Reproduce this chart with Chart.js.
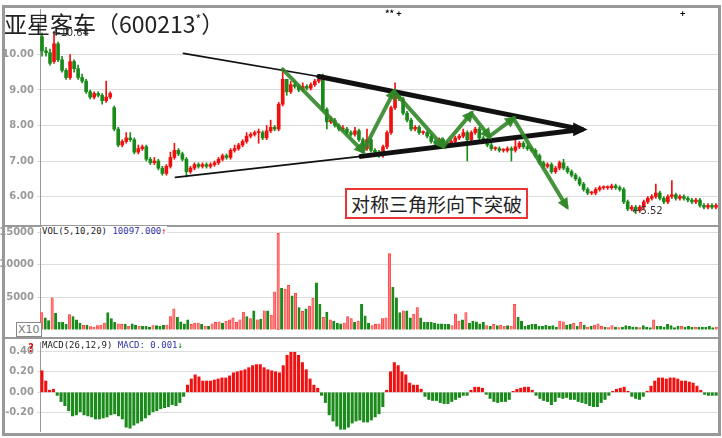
<!DOCTYPE html>
<html><head><meta charset="utf-8">
<script src="https://cdn.jsdelivr.net/npm/chart.js@4.4.0/dist/chart.umd.min.js"></script>
<style>
body{margin:0;background:#fff;font-family:"Noto Sans CJK SC",sans-serif}
#wrap{position:relative;width:722px;height:438px;overflow:hidden;background:#fff}
canvas{position:absolute}
.t{position:absolute;white-space:nowrap}
.frame{position:absolute;border:3px solid #999;left:2px;top:5px;width:713px;height:425px}
.sep{position:absolute;left:2px;width:716px;height:2px;background:#999}
</style></head><body>
<div id="wrap">
  <div class="frame"></div>
  <div class="sep" style="top:225px"></div>
  <div class="sep" style="top:337px"></div>
  <canvas id="cPrice" width="718" height="235" style="left:0;top:0"></canvas>
  <canvas id="cVol" width="718" height="121" style="left:0;top:219px"></canvas>
  <canvas id="cMacd" width="718" height="107" style="left:0;top:333px"></canvas>
  <div class="t" style="left:4px;top:6px;font-size:23px;color:#222">亚星客车（600213<sup style="font-size:12px">*</sup>）</div>
  <div class="t" style="left:52px;top:27px;font-size:10px;color:#333;font-family:'DejaVu Sans'">←10.64</div>
  <div class="t" style="left:632px;top:205px;font-size:10px;color:#333;font-family:'DejaVu Sans'">←5.52</div>
  <div class="t" style="left:385px;top:7px;font-size:9px;color:#000;font-weight:bold">** +</div>
  <div class="t" style="left:680px;top:7px;font-size:9px;color:#000;font-weight:bold">+</div>
  <div class="t" style="left:345px;top:188px;font-size:19px;color:#222;border:2px solid #e33;padding:0 4px;background:#fff">对称三角形向下突破</div>
  <div class="t" style="left:42px;top:226px;font-size:9px;font-family:'DejaVu Sans Mono';color:#222;background:#fff">VOL(5,10,20) <span style="color:#33a">10097.000</span><span style="color:#e22">↑</span></div>
  <div class="t" style="left:16px;top:322px;font-size:11px;color:#777;border:1px solid #888;padding:0 1px;background:#fff;font-family:'DejaVu Sans'">X10</div>
  <div class="t" style="left:28px;top:339px;font-size:11px;color:#d00;font-weight:bold">?</div>
  <div class="t" style="left:42px;top:340px;font-size:9px;font-family:'DejaVu Sans Mono';color:#222;background:#fff">MACD(26,12,9) <span style="color:#33a">MACD: 0.001</span><span style="color:#1a8a1a">↓</span></div>
</div>
<script>
const opens = [10.5,10.1,10.05,9.8,10.3,9.85,9.55,9.35,9.8,9.6,9.35,9.25,8.95,8.8,8.9,8.85,8.7,8.8,8.5,7.9,
  7.45,7.55,7.65,7.6,7.25,7.35,7.4,7.05,6.95,7.0,6.8,6.65,6.85,7.1,7.3,7.2,7.05,6.7,6.8,6.9,
  6.85,6.9,6.85,6.9,6.95,7.05,7.15,7.1,7.3,7.35,7.45,7.55,7.7,7.75,7.8,7.8,7.65,7.85,7.95,7.9,
  8.6,9.3,8.95,9.15,9.1,9.0,9.1,9.05,9.15,9.25,9.4,8.45,8.1,8.15,8.0,7.9,7.9,7.8,7.75,7.85,
  7.6,7.35,7.6,7.3,7.25,7.15,7.4,7.8,8.5,8.9,8.75,8.35,8.15,7.9,7.95,7.8,7.8,7.7,7.55,7.5,
  7.6,7.45,7.5,7.55,7.65,7.7,7.8,7.6,7.8,7.9,7.65,7.6,7.45,7.35,7.35,7.3,7.3,7.35,7.3,7.4,
  7.5,7.4,7.35,7.3,7.15,6.95,6.85,6.9,6.7,6.8,6.95,6.8,6.7,6.6,6.5,6.35,6.2,6.1,6.1,6.2,
  6.25,6.25,6.25,6.3,6.25,6.2,5.85,5.65,5.7,5.6,5.7,5.85,5.95,6.0,6.1,5.95,5.85,6.0,6.05,5.95,
  6.0,5.95,5.9,5.85,5.9,5.75,5.7,5.75,5.7];
const closes = [10.1,10.05,9.75,10.3,9.85,9.55,9.35,9.8,9.6,9.35,9.25,8.95,8.8,8.9,8.85,8.7,8.8,8.9,7.9,7.45,
  7.55,7.65,7.6,7.25,7.35,7.4,7.05,6.95,7.0,6.8,6.65,6.85,7.1,7.3,7.2,7.05,6.7,6.8,6.9,6.85,
  6.9,6.85,6.9,6.95,7.05,7.15,7.1,7.3,7.35,7.45,7.55,7.7,7.75,7.8,7.8,7.65,7.85,7.95,7.9,8.6,
  9.3,8.95,9.15,9.1,9.0,9.1,9.05,9.15,9.25,9.3,8.45,8.1,8.15,8.0,7.9,7.9,7.8,7.75,7.85,7.6,
  7.35,7.6,7.3,7.25,7.15,7.4,7.8,8.5,8.9,8.75,8.35,8.15,7.9,7.95,7.8,7.8,7.7,7.55,7.5,7.6,
  7.45,7.5,7.55,7.65,7.7,7.8,7.6,7.8,7.9,7.65,7.6,7.45,7.35,7.35,7.3,7.3,7.35,7.3,7.4,7.5,
  7.4,7.35,7.3,7.15,6.95,6.85,6.9,6.7,6.8,6.95,6.8,6.7,6.6,6.5,6.35,6.2,6.1,6.1,6.2,6.25,
  6.25,6.25,6.3,6.25,6.2,5.85,5.65,5.7,5.6,5.7,5.85,5.95,6.0,6.1,5.95,5.85,6.0,6.05,5.95,6.0,
  5.95,5.9,5.85,5.9,5.75,5.7,5.75,5.7,5.75];
const highs = [10.6,10.2,10.15,10.64,10.35,9.95,9.6,10.0,9.85,9.7,9.45,9.3,9.0,8.95,8.95,8.9,9.25,8.95,8.55,7.95,
  7.6,7.8,7.8,7.65,7.45,7.45,7.45,7.1,7.1,7.05,6.85,6.9,7.25,7.5,7.35,7.25,7.1,6.85,6.95,6.95,
  6.95,6.95,6.95,7.0,7.1,7.2,7.2,7.35,7.45,7.5,7.6,7.8,7.8,7.85,7.9,7.85,8.0,8.15,8.0,8.65,
  9.6,9.3,9.25,9.25,9.15,9.2,9.15,9.2,9.3,9.35,9.45,8.5,8.25,8.2,8.05,8.0,7.95,7.85,7.95,7.9,
  7.65,7.9,7.65,7.35,7.3,7.45,7.85,8.55,9.2,8.95,8.8,8.4,8.2,8.0,8.0,7.85,7.85,7.75,7.6,7.65,
  7.65,7.55,7.6,7.7,7.75,7.9,7.85,7.85,7.95,7.95,7.7,7.65,7.5,7.4,7.4,7.35,7.4,7.4,7.7,7.55,
  7.55,7.45,7.4,7.35,7.2,7.0,6.95,6.95,6.85,7.0,7.05,6.85,6.75,6.65,6.55,6.4,6.25,6.15,6.25,6.3,
  6.3,6.3,6.35,6.35,6.3,6.25,5.9,5.75,5.75,5.75,5.9,6.0,6.05,6.35,6.15,6.0,6.05,6.45,6.1,6.05,
  6.05,6.0,5.95,5.95,5.95,5.8,5.8,5.8,5.8];
const lows = [9.95,9.95,9.7,9.75,9.8,9.5,9.3,9.3,9.5,9.3,9.2,8.9,8.75,8.75,8.8,8.6,8.65,8.75,7.85,7.4,
  7.4,7.5,7.55,7.2,7.2,7.3,7.0,6.9,6.9,6.75,6.6,6.6,6.8,7.05,7.15,7.0,6.55,6.65,6.75,6.8,
  6.8,6.8,6.8,6.85,6.9,7.0,7.05,7.05,7.25,7.3,7.4,7.5,7.65,7.7,7.5,7.6,7.6,7.8,7.85,7.85,
  8.55,8.85,8.9,9.05,8.95,8.95,9.0,9.0,9.1,9.2,8.4,7.9,8.05,7.95,7.85,7.85,7.75,7.7,7.7,7.55,
  7.3,7.3,7.25,7.2,7.1,7.1,7.35,7.75,8.45,8.7,8.3,8.1,7.85,7.85,7.75,7.75,7.65,7.5,7.45,7.45,
  7.4,7.4,7.45,7.5,7.6,7.65,7.0,7.55,7.75,7.6,7.55,7.4,7.3,7.3,7.25,7.25,7.25,7.0,7.25,7.35,
  7.35,7.3,7.25,7.1,6.9,6.8,6.8,6.65,6.65,6.75,6.75,6.65,6.55,6.45,6.3,6.15,6.05,6.05,6.05,6.15,
  6.2,6.2,6.2,6.2,6.15,5.8,5.6,5.6,5.52,5.55,5.65,5.8,5.9,5.95,5.9,5.8,5.8,5.95,5.9,5.9,
  5.9,5.85,5.8,5.8,5.7,5.65,5.65,5.65,5.65];

const volumes = [2600,1800,1400,4900,2500,1100,1100,800,2300,2000,
  1500,1000,700,700,450,400,600,700,1000,2600,
  1700,1100,900,800,800,500,900,700,500,500,
  500,400,600,600,500,700,700,2000,3200,1900,
  1200,900,1500,800,1000,1000,800,500,500,900,
  1100,1200,1000,1300,1500,1800,1100,1500,2700,2000,
  1700,2900,1500,1600,2900,2900,2200,5800,14800,6400,
  6200,6800,5200,5600,3400,2800,3200,3600,4800,7200,
  3900,1900,2700,1500,1300,1000,900,1000,2000,1700,
  1100,1300,3900,2100,1000,600,800,900,1700,1800,
  11700,6500,4900,2600,2900,2900,1800,2400,3400,1800,
  1100,1100,1100,1000,900,900,800,800,600,2400,
  1300,1500,2600,1000,1300,1200,900,1100,600,500,
  800,600,700,500,600,500,3900,1900,1300,500,
  700,800,800,500,500,700,500,600,400,1300,
  1200,700,800,1000,500,1100,700,400,500,700,
  900,500,400,300,600,400,300,400,600,500,
  400,400,300,600,400,300,1500,500,500,400,
  800,600,300,500,500,400,500,400,400,400,
  400,400,500,300,400];
const volColors = 'rggrggggrg'+'ggrgrrrrrg'+'ggrrgrggrg'+'ggrgggrrrg'+'gggrrrgrgr'+'rrgrrrrrrg'+
  'rgrgrgrrrg'+'rrgrgrgrrg'+'grgrgggrrr'+'grgggrrrrr'+'rgggrggrrg'+'ggggggggrr'+'rgrgggggrg'+
  'rgrrgrrggg'+'gggggggggr'+'rggrgrgrgr'+'rrgrrgrggg'+'ggrgggrggg'+'ggggrgggrg'+'ggggr';

const macd = [0.21,0.11,0.02,0.03,-0.03,-0.09,-0.13,-0.18,-0.23,-0.22,-0.19,-0.22,-0.23,-0.24,-0.26,-0.26,-0.25,-0.24,-0.22,-0.21,
  -0.23,-0.26,-0.34,-0.35,-0.32,-0.30,-0.28,-0.25,-0.22,-0.19,-0.18,-0.16,-0.15,-0.14,-0.12,-0.13,-0.10,-0.04,0.07,0.13,
  0.17,0.15,0.11,0.11,0.11,0.12,0.13,0.14,0.14,0.16,0.19,0.20,0.21,0.22,0.24,0.26,0.27,0.27,0.24,0.22,
  0.21,0.20,0.19,0.26,0.36,0.39,0.39,0.36,0.29,0.22,0.13,0.07,0.04,-0.03,-0.10,-0.22,-0.28,-0.33,-0.36,-0.36,
  -0.34,-0.30,-0.28,-0.27,-0.29,-0.29,-0.27,-0.24,-0.21,-0.14,0.02,0.20,0.29,0.26,0.20,0.17,0.09,0.07,0.07,0.03,
  -0.04,-0.07,-0.08,-0.08,-0.10,-0.11,-0.11,-0.09,-0.07,-0.05,-0.03,-0.03,0.02,0.05,0.05,0.04,-0.02,-0.06,-0.09,-0.10,
  -0.09,-0.09,-0.07,0.01,0.03,0.04,0.05,0.05,0.02,-0.03,-0.06,-0.08,-0.09,-0.12,-0.09,-0.05,-0.06,-0.05,-0.07,-0.07,
  -0.09,-0.10,-0.11,-0.13,-0.14,-0.14,-0.10,-0.07,-0.03,0.01,0.03,0.04,0.05,0.01,-0.04,-0.06,-0.07,-0.04,0.01,0.06,
  0.11,0.14,0.14,0.13,0.14,0.14,0.13,0.11,0.11,0.10,0.09,0.06,0.02,-0.02,-0.03,-0.03,-0.03];

// trend lines drawn on the price chart, points as [candle index, price]
const upperThin = [[35.25,10.03],[69,9.38]];
const upperThick = [[69,9.38],[134.5,7.89]];
const lowerThin = [[33.25,6.54],[79.5,7.13]];
const lowerThick = [[79.5,7.13],[134.5,7.89]];
const greenPath = [[60,9.58],[80,7.27],[87.75,8.96],[100,7.41],[107,8.34],[111.5,7.69],[117.5,8.20],[130.75,5.72]];

const RED = '#f01010', GREEN = '#1a8a1a';
const tickFont = { family: 'DejaVu Sans', size: 10, weight: 'bold' };
const fitY = (w) => ({ afterFit(s) { s.width = w; } });

function arrow(ctx, x1, y1, x2, y2, head, color) {
  const a = Math.atan2(y2 - y1, x2 - x1);
  ctx.fillStyle = color;
  ctx.beginPath();
  ctx.moveTo(x2, y2);
  ctx.lineTo(x2 - head * Math.cos(a - 0.45), y2 - head * Math.sin(a - 0.45));
  ctx.lineTo(x2 - head * Math.cos(a + 0.45), y2 - head * Math.sin(a + 0.45));
  ctx.closePath(); ctx.fill();
}

const overlay = {
  id: 'overlay',
  afterDatasetsDraw(chart) {
    const { ctx, scales: { x, y } } = chart;
    const px = p => [x.getPixelForValue(p[0]), y.getPixelForValue(p[1])];
    const seg = (pts, w, color) => {
      const [a, b] = [px(pts[0]), px(pts[1])];
      ctx.strokeStyle = color; ctx.lineWidth = w; ctx.lineCap = 'round';
      ctx.beginPath(); ctx.moveTo(a[0], a[1]); ctx.lineTo(b[0], b[1]); ctx.stroke();
      return [a, b];
    };
    ctx.save();
    seg(upperThin, 1.6, '#111'); seg(lowerThin, 1.6, '#111');
    const [u1, u2] = seg(upperThick, 5, '#111');
    seg(lowerThick, 5, '#111');
    arrow(ctx, u1[0], u2[1], u2[0] + 6, u2[1], 16, '#111');
    for (let i = 0; i < greenPath.length - 1; i++) {
      const [a, b] = seg([greenPath[i], greenPath[i + 1]], 4, 'rgba(50,135,40,0.9)');
      const dx = b[0] - a[0], dy = b[1] - a[1], L = Math.hypot(dx, dy);
      arrow(ctx, a[0], a[1], b[0] + dx / L * 4, b[1] + dy / L * 4, 13, 'rgba(50,135,40,0.95)');
    }
    ctx.restore();
  }
};

const idx = closes.map((_, i) => i);
const candleCol = closes.map((c, i) => c >= opens[i] ? RED : GREEN);
new Chart(document.getElementById('cPrice'), {
  type: 'bar',
  data: { labels: idx, datasets: [
    { data: lows.map((l, i) => [l, highs[i]]), backgroundColor: candleCol, barThickness: 1, grouped: false },
    { data: opens.map((o, i) => [o, closes[i]]), backgroundColor: candleCol, barThickness: 3, minBarLength: 1, grouped: false }
  ] },
  options: {
    responsive: false, animation: false, layout: { padding: 0 },
    plugins: { legend: { display: false }, tooltip: { enabled: false } },
    scales: {
      x: { display: false, offset: true },
      y: { min: 5.17, max: 11.28, ...fitY(40),
        afterBuildTicks(s) { s.ticks = [6, 7, 8, 9, 10].map(v => ({ value: v })); },
        ticks: { color: '#999', font: tickFont, padding: 3, callback: v => v.toFixed(2) },
        grid: { color: '#ddd', drawTicks: true, tickLength: 3 }, border: { color: '#999' } }
    }
  },
  plugins: [overlay]
});

new Chart(document.getElementById('cVol'), {
  type: 'bar',
  data: { labels: volumes.map((_, i) => i), datasets: [{
    data: volumes,
    backgroundColor: volumes.map((_, i) => volColors[i] === 'r' ? 'rgba(255,120,120,0.9)' : GREEN),
    borderColor: volumes.map((_, i) => volColors[i] === 'r' ? '#f33' : GREEN),
    borderWidth: 0.6, barThickness: 2.4
  }] },
  options: {
    responsive: false, animation: false,
    plugins: { legend: { display: false }, tooltip: { enabled: false } },
    scales: {
      x: { display: false, offset: true },
      y: { min: -220, max: 15630, ...fitY(40),
        afterBuildTicks(s) { s.ticks = [5000, 10000, 15000].map(v => ({ value: v })); },
        ticks: { color: '#999', font: tickFont, padding: 3, callback: v => String(v) },
        grid: { color: '#ddd', tickLength: 3 }, border: { color: '#999' } }
    }
  }
});

new Chart(document.getElementById('cMacd'), {
  type: 'bar',
  data: { labels: macd.map((_, i) => i), datasets: [{
    data: macd, backgroundColor: macd.map(v => v >= 0 ? RED : GREEN), barThickness: 2.4
  }] },
  options: {
    responsive: false, animation: false,
    plugins: { legend: { display: false }, tooltip: { enabled: false } },
    scales: {
      x: { display: false, offset: true },
      y: { min: -0.377, max: 0.49, ...fitY(40),
        afterBuildTicks(s) { s.ticks = [-0.2, 0, 0.2, 0.4].map(v => ({ value: v })); },
        ticks: { color: '#999', font: tickFont, padding: 3, callback: v => v.toFixed(2) },
        grid: { color: '#ddd', tickLength: 3 }, border: { color: '#999' } }
    }
  }
});
</script>
</body></html>
